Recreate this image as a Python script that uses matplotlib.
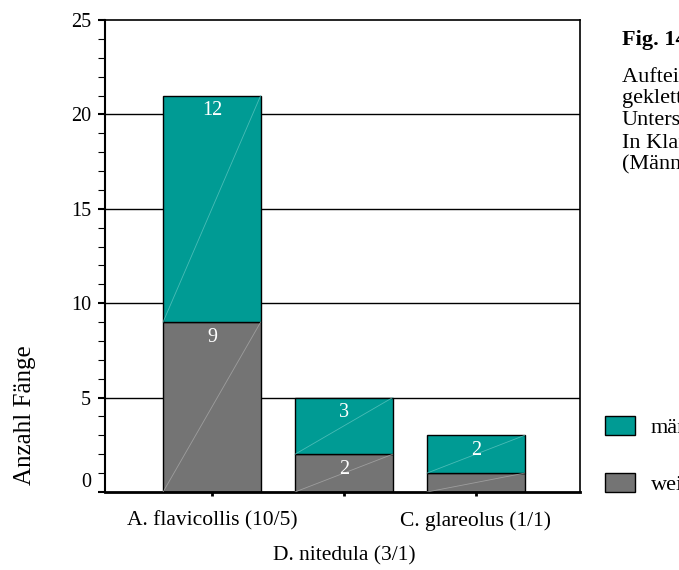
import matplotlib
matplotlib.use("Agg")
import matplotlib.pyplot as plt
import numpy as np
from matplotlib.ticker import MultipleLocator
import matplotlib.transforms as mtransforms

# ---- data ----
species = ["A. flavicollis (10/5)", "D. nitedula (3/1)", "C. glareolus (1/1)"]
weiblich = [9, 2, 1]
maennlich = [12, 3, 2]
series_labels = ["männlich", "weiblich"]
ylabel = "Anzahl Fänge"
caption_title = "Fig. 14"
caption_lines = ["Aufteilung der Fänge", "geklettert nach Geschlecht", "Untersuchungsgebiet",
                 "In Klammern: Anzahl Tiere", "(Männchen/Weibchen)"]

teal = "#009B94"
grey = "#747474"
serif = ["Liberation Serif", "DejaVu Serif"]
plt.rcParams["font.family"] = serif

W, H = 679, 570
fig = plt.figure(figsize=(W / 100, H / 100), dpi=100)
ax = fig.add_axes([105 / W, 1 - 492 / H, (580 - 105) / W, (492 - 20) / H])

x = np.arange(len(species))
width = 0.74
ax.set_xlim(-0.81, 2.79)
ax.set_ylim(0, 25)

# gridlines
for yv in [5, 10, 15, 20]:
    ax.axhline(yv, color="black", lw=1.0, zorder=1)

b1 = ax.bar(x, weiblich, width, color=grey, edgecolor="black", lw=1.0, zorder=2)
b2 = ax.bar(x, maennlich, width, bottom=weiblich, color=teal, edgecolor="black", lw=1.0, zorder=2)

# faint diagonal artifacts inside each segment
for bars, c in [(b1, "#a8a8a8"), (b2, "#5cc4bf")]:
    for r in bars:
        x0, y0 = r.get_x(), r.get_y()
        ax.plot([x0, x0 + r.get_width()], [y0, y0 + r.get_height()], color=c,
                lw=0.6, alpha=0.8, zorder=3)

# value labels
for bars, vals in [(b1, weiblich), (b2, maennlich)]:
    for r, v in zip(bars, vals):
        if v >= 2:
            ax.annotate(str(v), (r.get_x() + r.get_width() / 2, r.get_y() + r.get_height()),
                        xytext=(0, -4), textcoords="offset points", ha="center", va="top",
                        color="white", fontsize=14.5, zorder=4)

# spines
for s in ["top", "right"]:
    ax.spines[s].set_linewidth(1.2)
ax.spines["left"].set_linewidth(1.5)
ax.spines["bottom"].set_linewidth(2.0)

ax.yaxis.set_major_locator(MultipleLocator(5))
ax.yaxis.set_minor_locator(MultipleLocator(1))
ax.tick_params(axis="y", which="major", direction="out", length=5, width=1.5, labelsize=14.5, pad=5)
ax.tick_params(axis="y", which="minor", direction="out", length=5, width=0.8)
ax.set_xticks(x)
ax.set_xticklabels(species)
ax.tick_params(axis="x", direction="out", length=3, width=2, labelsize=15.5, pad=11)

# shift "0" label up and the middle x label down, like in the reference
fig.canvas.draw()
for t in ax.get_yticklabels():
    if t.get_text() == "0":
        t.set_transform(t.get_transform() + mtransforms.ScaledTranslation(0, 12 / 100, fig.dpi_scale_trans))
xl = ax.get_xticklabels()
xl[1].set_transform(xl[1].get_transform() + mtransforms.ScaledTranslation(0, -35 / 100, fig.dpi_scale_trans))

fig.text(25 / W, 1 - 415 / H, ylabel, rotation=90, ha="center", va="center", fontsize=18)

# legend
handles = [plt.Rectangle((0, 0), 1, 1, facecolor=teal, edgecolor="black", lw=1.0),
           plt.Rectangle((0, 0), 1, 1, facecolor=grey, edgecolor="black", lw=1.0)]
fig.legend(handles, series_labels, loc="upper left", bbox_to_anchor=(605 / W, 1 - 416 / H),
           frameon=False, fontsize=16, handlelength=1.35, handleheight=0.95,
           handletextpad=0.7, labelspacing=1.55, borderpad=0, borderaxespad=0)

# caption (clipped at right edge as in the reference)
fig.text(622 / W, 1 - 40 / H, caption_title, fontsize=16, fontweight="bold", va="center", ha="left")
for i, line in enumerate(caption_lines):
    fig.text(622 / W, 1 - (77 + 22 * i) / H, line, fontsize=16, va="center", ha="left")

fig.savefig("out.png", dpi=100)
